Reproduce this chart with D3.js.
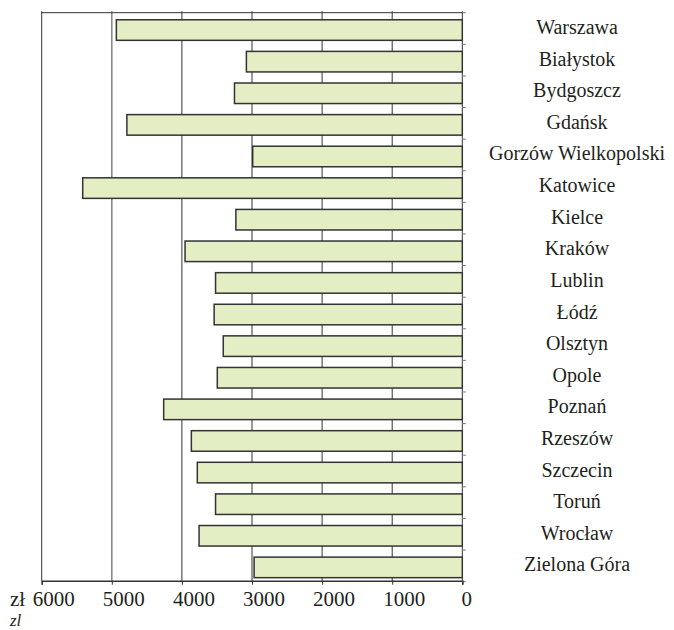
<!DOCTYPE html>
<html>
<head>
<meta charset="utf-8">
<title>Wynagrodzenia</title>
<script src="https://cdn.jsdelivr.net/npm/d3@7"></script>
<style>
    body { margin: 0; background: #fff; }
    .grid line { stroke: #333; stroke-width: 1; }
    .bar { fill: #e4eec4; stroke: #333; stroke-width: 1.5; }
</style>
</head>
<body>
<script>
// cities top to bottom and the bar values (zł)
var cities = ["Warszawa", "Białystok", "Bydgoszcz", "Gdańsk", "Gorzów Wielkopolski",
    "Katowice", "Kielce", "Kraków", "Lublin", "Łódź", "Olsztyn", "Opole", "Poznań",
    "Rzeszów", "Szczecin", "Toruń", "Wrocław", "Zielona Góra"];
var values = [4935, 3080, 3250, 4785, 2990, 5415, 3230, 3955, 3520, 3540, 3410,
    3495, 4260, 3865, 3780, 3520, 3755, 2970];
var xTicks = [6000, 5000, 4000, 3000, 2000, 1000, 0];

var width = 674, height = 630;
var plotLeft = 41.7, plotRight = 462.3, plotTop = 12.7, plotBottom = 580.7;
var labelFont = "'Liberation Serif'";
var textColor = "#231f20";

var svg = d3.select("body").append("svg")
    .attr("width", width)
    .attr("height", height);

var x = d3.scaleLinear().domain([6000, 0]).range([plotLeft, plotRight]);
var y = d3.scaleBand().domain(cities).range([plotTop, plotBottom])
    .paddingInner(0.35).paddingOuter(0.16).align(0.7);

// vertical grid lines
var grid = svg.append("g").attr("class", "grid");
grid.selectAll("line.v")
    .data(xTicks)
    .enter().append("line")
    .attr("class", "v")
    .attr("x1", function (d) { return x(d); })
    .attr("x2", function (d) { return x(d); })
    .attr("y1", plotTop - 1.5)
    .attr("y2", plotBottom)
    .style("stroke", function (d) { return d === 5000 ? "#8a8a8a" : null; })
    .style("stroke-width", function (d) { return d === 5000 ? 1.6 : null; });

// top border
grid.append("line")
    .attr("x1", plotLeft).attr("x2", plotRight)
    .attr("y1", plotTop).attr("y2", plotTop);

// small ticks to the right of the zero line
var step = y.step();
grid.selectAll("line.rt")
    .data(d3.range(cities.length + 1))
    .enter().append("line")
    .attr("class", "rt")
    .attr("x1", plotRight).attr("x2", plotRight + 3.5)
    .attr("y1", function (i) { return plotTop + i * step; })
    .attr("y2", function (i) { return plotTop + i * step; })
    .style("stroke", "#777");

// bars
svg.selectAll("rect.bar")
    .data(values)
    .enter().append("rect")
    .attr("class", "bar")
    .attr("x", function (d) { return x(d); })
    .attr("y", function (d, i) { return y(cities[i]); })
    .attr("width", function (d) { return x(0) - x(d); })
    .attr("height", y.bandwidth());

// bottom axis, labels sit a little right of their ticks like in the print
var xAxis = d3.axisBottom(x)
    .tickValues(xTicks)
    .tickSize(4)
    .tickFormat(d3.format("d"));

var axisG = svg.append("g")
    .attr("transform", "translate(0," + plotBottom + ")")
    .call(xAxis);
axisG.select(".domain").attr("stroke", "#333").attr("stroke-width", 1.5);
axisG.selectAll(".tick line").attr("stroke", "#333");
axisG.selectAll(".tick text")
    .style("font-family", labelFont)
    .style("font-size", "21px")
    .style("fill", textColor)
    .attr("dy", "0.85em")
    .attr("dx", function (d) { return d === 0 ? 4 : 11.5; });

// currency unit before the first tick label, and the italic note below it
svg.append("text")
    .attr("x", 10)
    .attr("y", plotBottom + 7 + 21 * 0.85)
    .style("font-family", labelFont)
    .style("font-size", "21px")
    .style("fill", textColor)
    .text("zł");

svg.append("text")
    .attr("x", 10)
    .attr("y", 626)
    .style("font-family", labelFont)
    .style("font-size", "17px")
    .style("font-style", "italic")
    .style("fill", textColor)
    .text("zl");

// city labels
svg.selectAll("text.city")
    .data(cities)
    .enter().append("text")
    .attr("class", "city")
    .attr("x", 577)
    .attr("y", function (d) { return y(d) + y.bandwidth() / 2 + 4; })
    .attr("text-anchor", "middle")
    .style("font-family", labelFont)
    .style("font-size", "20px")
    .style("fill", textColor)
    .text(function (d) { return d; });
</script>
</body>
</html>
